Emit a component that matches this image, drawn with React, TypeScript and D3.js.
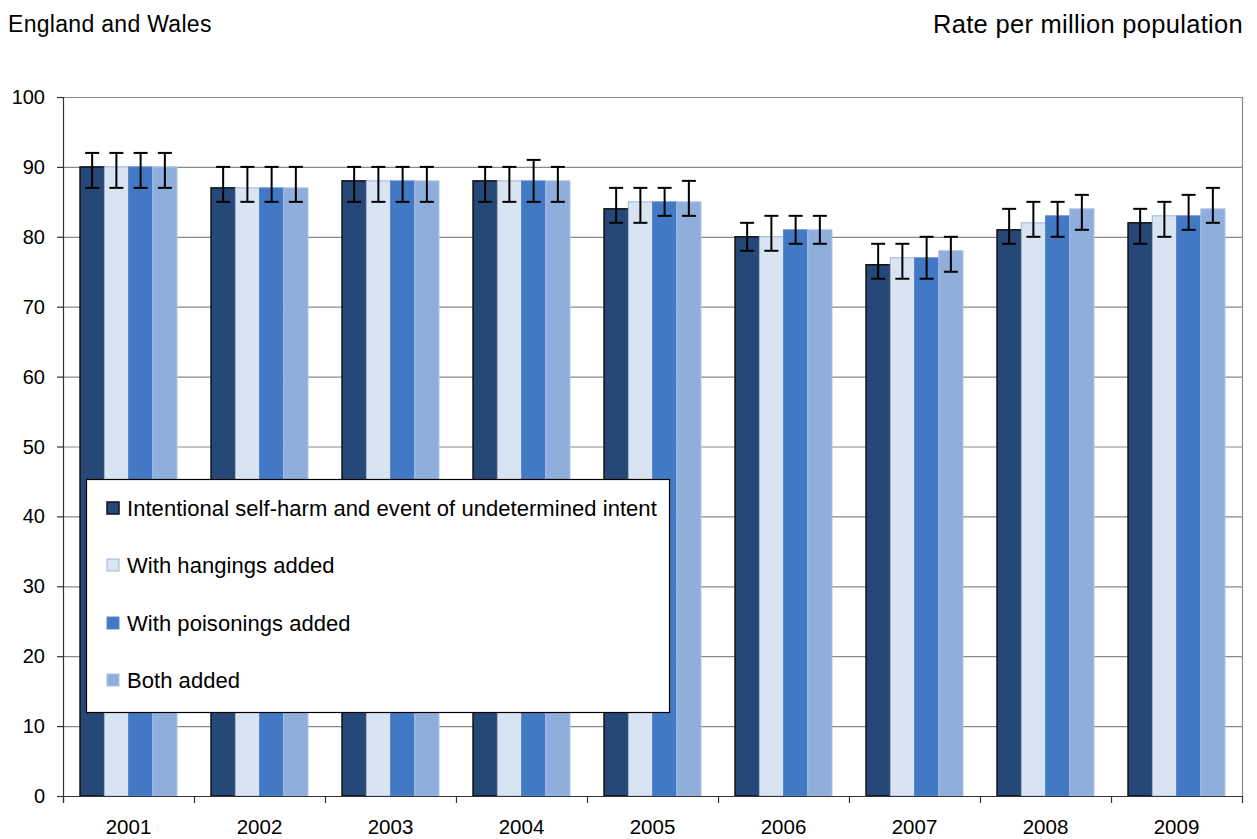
import React, { useEffect, useRef } from "react";
import * as d3 from "d3";

const years = ["2001", "2002", "2003", "2004", "2005", "2006", "2007", "2008", "2009"];
const seriesNames = [
  "Intentional self-harm and event of undetermined intent",
  "With hangings added",
  "With poisonings added",
  "Both added",
];
const selfHarm = [90, 87, 88, 88, 84, 80, 76, 81, 82];
const hangings = [90, 87, 88, 88, 85, 80, 77, 82, 83];
const poisonings = [90, 87, 88, 88, 85, 81, 77, 83, 83];
const bothAdded = [90, 87, 88, 88, 85, 81, 78, 84, 84];

const selfHarmLow = [87, 85, 85, 85, 82, 78, 74, 79, 79];
const selfHarmHigh = [92, 90, 90, 90, 87, 82, 79, 84, 84];
const hangingsLow = [87, 85, 85, 85, 82, 78, 74, 80, 80];
const hangingsHigh = [92, 90, 90, 90, 87, 83, 79, 85, 85];
const poisoningsLow = [87, 85, 85, 85, 83, 79, 74, 80, 81];
const poisoningsHigh = [92, 90, 90, 91, 87, 83, 80, 85, 86];
const bothLow = [87, 85, 85, 85, 83, 79, 75, 81, 82];
const bothHigh = [92, 90, 90, 90, 88, 83, 80, 86, 87];

const yTicks = [0, 10, 20, 30, 40, 50, 60, 70, 80, 90, 100];

const fills = ["#264878", "#D9E4F2", "#4278C4", "#8FAEDC"];
const strokes = ["#111111", "#9CB6DE", "#5B88CA", "#A9C1E6"];

const W = 1257;
const H = 839;
const FONT = "'Liberation Sans', Arial, Helvetica, sans-serif";

export default function App() {
  const ref = useRef<SVGSVGElement | null>(null);

  useEffect(() => {
    const svg = d3.select(ref.current);
    svg.selectAll("*").remove();

    const left = 63;
    const right = 1242;
    const top = 97;
    const bottom = 796;

    const values = [selfHarm, hangings, poisonings, bothAdded];
    const lows = [selfHarmLow, hangingsLow, poisoningsLow, bothLow];
    const highs = [selfHarmHigh, hangingsHigh, poisoningsHigh, bothHigh];

    const x0 = d3.scaleBand<string>().domain(years).range([left, right]).paddingInner(0.26).paddingOuter(0.13);
    const x1 = d3.scaleBand<number>().domain([0, 1, 2, 3]).range([0, x0.bandwidth()]);
    const y = d3.scaleLinear().domain([0, 100]).range([bottom, top]);
    const cat = d3.scaleBand<string>().domain(years).range([left, right]);

    const g = svg.append("g");

    // gridlines
    g.selectAll("line.grid")
      .data(yTicks.filter((t) => t > 0))
      .join("line")
      .attr("x1", left)
      .attr("x2", right)
      .attr("y1", (d) => y(d) + 0.5)
      .attr("y2", (d) => y(d) + 0.5)
      .attr("stroke", "#8a8a8a")
      .attr("stroke-width", 1.2);

    // right border of plot area
    g.append("line")
      .attr("x1", right + 0.5)
      .attr("x2", right + 0.5)
      .attr("y1", top)
      .attr("y2", bottom)
      .attr("stroke", "#8a8a8a")
      .attr("stroke-width", 1.2);

    // bars
    years.forEach((yr, i) => {
      const gx = x0(yr)!;
      values.forEach((vals, s) => {
        const bx = gx + x1(s)!;
        g.append("rect")
          .attr("x", bx)
          .attr("y", y(vals[i]))
          .attr("width", x1.bandwidth())
          .attr("height", bottom - y(vals[i]))
          .attr("fill", fills[s])
          .attr("stroke", strokes[s])
          .attr("stroke-width", s === 0 ? 1.5 : 1);
      });
    });

    // error bars
    years.forEach((yr, i) => {
      const gx = x0(yr)!;
      values.forEach((_, s) => {
        const cx = gx + x1(s)! + x1.bandwidth() / 2;
        const lo = y(lows[s][i]);
        const hi = y(highs[s][i]);
        const eb = g.append("g").attr("stroke", "#000").attr("stroke-width", 2);
        eb.append("line").attr("x1", cx).attr("x2", cx).attr("y1", hi).attr("y2", lo);
        eb.append("line").attr("x1", cx - 7).attr("x2", cx + 7).attr("y1", hi).attr("y2", hi);
        eb.append("line").attr("x1", cx - 7).attr("x2", cx + 7).attr("y1", lo).attr("y2", lo);
      });
    });

    // axes
    const axisColor = "#333";
    g.append("line")
      .attr("x1", left + 0.5)
      .attr("x2", left + 0.5)
      .attr("y1", top)
      .attr("y2", bottom + 6)
      .attr("stroke", axisColor)
      .attr("stroke-width", 1.2);
    g.append("line")
      .attr("x1", left - 6)
      .attr("x2", right + 1)
      .attr("y1", bottom + 0.5)
      .attr("y2", bottom + 0.5)
      .attr("stroke", axisColor)
      .attr("stroke-width", 1.2);

    g.selectAll("line.ytick")
      .data(yTicks)
      .join("line")
      .attr("x1", left - 6)
      .attr("x2", left)
      .attr("y1", (d) => y(d) + 0.5)
      .attr("y2", (d) => y(d) + 0.5)
      .attr("stroke", axisColor)
      .attr("stroke-width", 1.2);

    g.selectAll("text.ylab")
      .data(yTicks)
      .join("text")
      .attr("x", left - 18)
      .attr("y", (d) => y(d) + 7)
      .attr("text-anchor", "end")
      .attr("font-family", FONT)
      .attr("font-size", 20)
      .attr("fill", "#000")
      .text((d) => String(d));

    const xTickPos = years.map((yr) => cat(yr)!).concat([right]);
    g.selectAll("line.xtick")
      .data(xTickPos)
      .join("line")
      .attr("x1", (d) => d + 0.5)
      .attr("x2", (d) => d + 0.5)
      .attr("y1", bottom)
      .attr("y2", bottom + 7)
      .attr("stroke", axisColor)
      .attr("stroke-width", 1.2);

    g.selectAll("text.xlab")
      .data(years)
      .join("text")
      .attr("x", (d) => cat(d)! + cat.bandwidth() / 2)
      .attr("y", 834)
      .attr("text-anchor", "middle")
      .attr("font-family", FONT)
      .attr("font-size", 20.5)
      .attr("fill", "#000")
      .text((d) => d);

    // headers
    svg.append("text")
      .attr("x", 8)
      .attr("y", 32)
      .attr("font-family", FONT)
      .attr("font-size", 23)
      .attr("letter-spacing", 0.3)
      .text("England and Wales");
    svg.append("text")
      .attr("x", 1243)
      .attr("y", 33)
      .attr("text-anchor", "end")
      .attr("font-family", FONT)
      .attr("font-size", 25.5)
      .attr("letter-spacing", 0.3)
      .text("Rate per million population");

    // legend
    const lg = svg.append("g");
    lg.append("rect")
      .attr("x", 86.5)
      .attr("y", 479.5)
      .attr("width", 583)
      .attr("height", 233)
      .attr("fill", "#fff")
      .attr("stroke", "#000")
      .attr("stroke-width", 1.2);
    const rowY = [508, 565, 623, 680];
    seriesNames.forEach((name, s) => {
      lg.append("rect")
        .attr("x", 107)
        .attr("y", rowY[s] - 6)
        .attr("width", 12)
        .attr("height", 12)
        .attr("fill", fills[s])
        .attr("stroke", strokes[s])
        .attr("stroke-width", s === 0 ? 1.5 : 1);
      lg.append("text")
        .attr("x", 127)
        .attr("y", rowY[s] + 8)
        .attr("font-family", FONT)
        .attr("font-size", 22)
        .attr("letter-spacing", 0.05)
        .text(name);
    });
  }, []);

  return (
    <svg
      ref={ref}
      width={W}
      height={H}
      style={{ position: "absolute", left: 0, top: 0, background: "#fff" }}
    />
  );
}
